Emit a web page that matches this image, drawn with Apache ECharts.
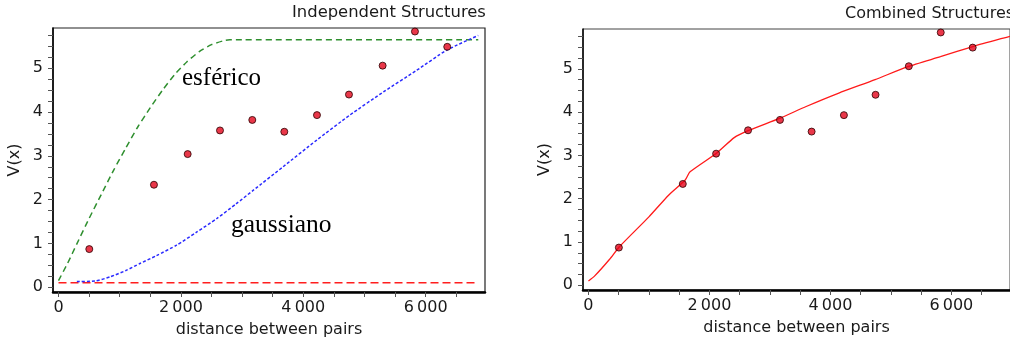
<!DOCTYPE html>
<html>
<head>
<meta charset="utf-8">
<script src="https://cdn.jsdelivr.net/npm/echarts@6/dist/echarts.min.js"></script>
<style>
  html, body { margin: 0; padding: 0; background: #fff; }
  #chart { width: 1010px; height: 351px; }
</style>
</head>
<body>
<div id="chart"></div>
<script>
// Experimental semivariogram: lag distance and semivariance
const lagDist = [503, 1560, 2111, 2639, 3167, 3690, 4224, 4747, 5297, 5825, 6353];
const semivar = [0.87, 2.34, 3.04, 3.58, 3.82, 3.55, 3.93, 4.40, 5.06, 5.84, 5.49];

// Spherical structure
const sphX = [0, 150, 300, 500, 700, 900, 1100, 1300, 1500, 1700, 1900, 2100, 2300, 2500, 2700, 2800, 6860];
const sphY = [0.15, 0.55, 0.99, 1.57, 2.12, 2.67, 3.18, 3.67, 4.1, 4.5, 4.86, 5.15, 5.38, 5.54, 5.63, 5.65, 5.65];

// Gaussian structure
const gauX = [300, 600, 850, 1100, 1330, 1600, 1930, 2250, 2590, 2900, 3180, 3670, 4220, 4760, 5310, 5850, 6340, 6860];
const gauY = [0.13, 0.14, 0.24, 0.38, 0.54, 0.72, 0.96, 1.25, 1.57, 1.9, 2.21, 2.75, 3.36, 3.93, 4.46, 4.95, 5.41, 5.75];

// Nugget effect
const nugX = [0, 6860];
const nugY = [0.1, 0.1];

// Combined model
const combX = [0, 100, 350, 512, 1000, 1325, 1600, 1680, 2117, 2410, 2640, 3170, 3600, 4140, 4740, 5280, 5820, 6370, 6860, 6970];
const combY = [0.1, 0.21, 0.6, 0.89, 1.58, 2.08, 2.43, 2.62, 3.05, 3.41, 3.57, 3.86, 4.13, 4.44, 4.75, 5.05, 5.28, 5.52, 5.71, 5.75];

// Axis ticks and labels
const xTicks = [0, 500, 1000, 1500, 2000, 2500, 3000, 3500, 4000, 4500, 5000, 5500, 6000, 6500];
const xLabels = [0, 2000, 4000, 6000];
const yTicks = [0, 0.25, 0.5, 0.75, 1, 1.25, 1.5, 1.75, 2, 2.25, 2.5, 2.75, 3, 3.25, 3.5, 3.75, 4, 4.25, 4.5, 4.75, 5, 5.25, 5.5, 5.75];
const yLabels = [0, 1, 2, 3, 4, 5];

const titles = ['Independent Structures', 'Combined Structures'];
const xName = 'distance between pairs';
const yName = 'V(x)';

const pairs = (xs, ys) => xs.map((x, i) => [x, ys[i]]);
const fmtThousands = v => String(v).replace(/\B(?=(\d{3})+$)/g, '\u2009');

const FONT = 'DejaVu Sans';
const TXT = '#1a1a1a';

function xAxisFor(gridIndex) {
  return {
    type: 'value', gridIndex, min: -90, max: 6970,
    name: xName, nameLocation: 'middle', nameGap: 30,
    nameTextStyle: { fontFamily: FONT, fontSize: 16, color: TXT },
    splitLine: { show: false },
    axisLine: { show: true, onZero: false, lineStyle: { color: '#000', width: 2.5 } },
    axisTick: { show: true, customValues: xTicks, length: 5, lineStyle: { color: '#555', width: 1 } },
    axisLabel: { customValues: xLabels, formatter: fmtThousands, margin: 8,
      fontFamily: FONT, fontSize: 16, color: TXT }
  };
}
function yAxisFor(gridIndex) {
  return {
    type: 'value', gridIndex, min: -0.11, max: 5.92,
    name: yName, nameLocation: 'middle', nameGap: 30, nameRotate: 90,
    nameTextStyle: { fontFamily: FONT, fontSize: 16, color: TXT },
    splitLine: { show: false },
    axisLine: { show: true, onZero: false, lineStyle: { color: '#000', width: 1.5 } },
    axisTick: { show: true, customValues: yTicks, length: 5, lineStyle: { color: '#555', width: 1 } },
    axisLabel: { customValues: yLabels, margin: 10,
      fontFamily: FONT, fontSize: 16, color: TXT }
  };
}

const pointStyle = {
  type: 'scatter', symbol: 'circle', symbolSize: 7,
  itemStyle: { color: '#e3051b', borderColor: '#2a0000', borderWidth: 1 },
  z: 5
};

const chart = echarts.init(document.getElementById('chart'), null, { renderer: 'canvas' });
chart.setOption({
  animation: false,
  backgroundColor: '#fff',
  grid: [
    { left: 53, top: 28, width: 432, height: 264, show: true, borderColor: '#222', borderWidth: 1.2, containLabel: false },
    { left: 583, top: 29, width: 434, height: 261, show: true, borderColor: '#444', borderWidth: 1, containLabel: false }
  ],
  xAxis: [xAxisFor(0), xAxisFor(1)],
  yAxis: [yAxisFor(0), yAxisFor(1)],
  series: [
    { type: 'line', xAxisIndex: 0, yAxisIndex: 0, data: pairs(nugX, nugY), showSymbol: false,
      lineStyle: { color: '#ff1e1e', width: 1.5, type: [8, 4] }, z: 2 },
    { type: 'line', xAxisIndex: 0, yAxisIndex: 0, data: pairs(sphX, sphY), showSymbol: false,
      smooth: 0.2, lineStyle: { color: '#2f8f2f', width: 1.5, type: [6, 4] }, z: 3 },
    { type: 'line', xAxisIndex: 0, yAxisIndex: 0, data: pairs(gauX, gauY), showSymbol: false,
      smooth: 0.2, lineStyle: { color: '#2a2aff', width: 1.5, type: [3, 2] }, z: 3 },
    Object.assign({ xAxisIndex: 0, yAxisIndex: 0, data: pairs(lagDist, semivar) }, pointStyle),
    { type: 'line', xAxisIndex: 1, yAxisIndex: 1, data: pairs(combX, combY), showSymbol: false,
      smooth: 0.2, lineStyle: { color: '#ff1a1a', width: 1.3 }, z: 3 },
    Object.assign({ xAxisIndex: 1, yAxisIndex: 1, data: pairs(lagDist, semivar) }, pointStyle)
  ],
  graphic: [
    { type: 'text', left: 292, top: 5, style: { text: titles[0], font: '16.4px "DejaVu Sans"', fill: TXT } },
    { type: 'text', left: 845, top: 6, style: { text: titles[1], font: '16px "DejaVu Sans"', fill: TXT } },
    { type: 'text', left: 182, top: 66, z: 10, style: { text: 'esférico', font: '25px "Liberation Serif"', fill: '#000' } },
    { type: 'text', left: 231, top: 212, z: 10, style: { text: 'gaussiano', font: '25.5px "Liberation Serif"', fill: '#000' } }
  ]
});
</script>
</body>
</html>
